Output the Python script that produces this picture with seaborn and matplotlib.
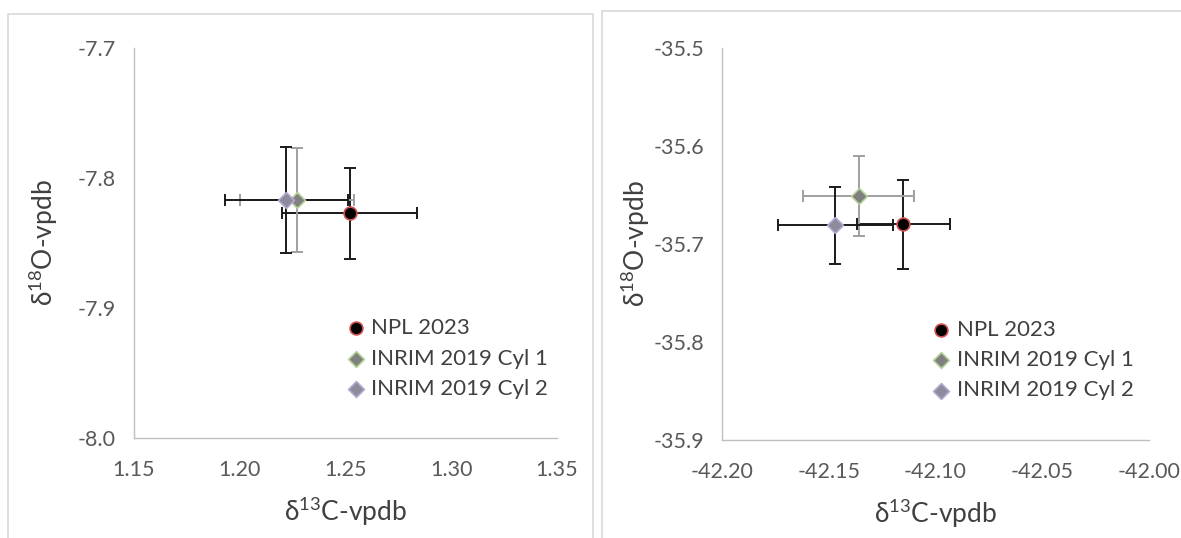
import matplotlib
matplotlib.use("Agg")
import matplotlib.pyplot as plt
from matplotlib.patches import Rectangle
import seaborn as sns
import pandas as pd

# Series names
series = ["NPL 2023", "INRIM 2019 Cyl 1", "INRIM 2019 Cyl 2"]

# Left panel: first gas (δ13C near +1.2 ‰)
left_d13c = [1.252, 1.227, 1.222]
left_d13c_err = [0.032, 0.027, 0.029]
left_d18o = [-7.827, -7.817, -7.817]
left_d18o_err = [0.035, 0.040, 0.041]

# Right panel: second gas (δ13C near -42.1 ‰)
right_d13c = [-42.115, -42.136, -42.147]
right_d13c_err = [0.022, 0.026, 0.027]
right_d18o = [-35.680, -35.651, -35.681]
right_d18o_err = [0.045, 0.041, 0.039]

left_xticks = [1.15, 1.20, 1.25, 1.30, 1.35]
left_yticks = [-8.0, -7.9, -7.8, -7.7]
right_xticks = [-42.20, -42.15, -42.10, -42.05, -42.00]
right_yticks = [-35.9, -35.8, -35.7, -35.6, -35.5]

sns.set_theme(style="white")
plt.rcParams["font.family"] = ["Lato", "Open Sans", "DejaVu Sans"]

marker_style = {
    "NPL 2023": dict(marker="o", fc="#000000", ec="#d05050", size=85),
    "INRIM 2019 Cyl 1": dict(marker="D", fc="#808080", ec="#b5d29a", size=65),
    "INRIM 2019 Cyl 2": dict(marker="D", fc="#8c8c9c", ec="#b3a8d0", size=65),
}
bar_color = {
    "NPL 2023": "#1a1a1a",
    "INRIM 2019 Cyl 1": "#a0a0a0",
    "INRIM 2019 Cyl 2": "#1a1a1a",
}

XLABEL = r"δ$^{\mathregular{13}}$C-vpdb"
YLABEL = r"δ$^{\mathregular{18}}$O-vpdb"

fig = plt.figure(figsize=(11.81, 5.38), dpi=100)

# light chart-area frames
fig.patches.append(Rectangle((8 / 1181, -0.01), 585 / 1181, 1 - 14 / 538 + 0.01,
                             transform=fig.transFigure, fill=False,
                             ec="#d9d9d9", lw=1.2, zorder=0))
fig.patches.append(Rectangle((602 / 1181, -0.01), 600 / 1181, 1 - 11 / 538 + 0.01,
                             transform=fig.transFigure, fill=False,
                             ec="#d9d9d9", lw=1.2, zorder=0))

ax_l = fig.add_axes([134 / 1181, 1 - 438 / 538, 423 / 1181, 390 / 538])
ax_r = fig.add_axes([722 / 1181, 1 - 440 / 538, 427 / 1181, 392 / 538])


def draw_panel(ax, xs, xe, ys, ye, xticks, yticks, xfmt, yfmt, legend_anchor, ypad):
    df = pd.DataFrame({"series": series, "x": xs, "xerr": xe, "y": ys, "yerr": ye})
    for _, row in df.iterrows():
        ax.errorbar(row["x"], row["y"], xerr=row["xerr"], yerr=row["yerr"],
                    fmt="none", ecolor=bar_color[row["series"]], elinewidth=1.4,
                    capsize=4.5, capthick=1.4, zorder=2)
    for name in series:
        st = marker_style[name]
        sub = df[df["series"] == name]
        sns.scatterplot(data=sub, x="x", y="y", ax=ax, marker=st["marker"],
                        color=st["fc"], edgecolor=st["ec"], linewidth=1.2,
                        s=st["size"], label=name, zorder=3)
    ax.set_xlim(xticks[0], xticks[-1])
    ax.set_ylim(yticks[0], yticks[-1])
    ax.set_xticks(xticks)
    ax.set_yticks(yticks)
    ax.set_xticklabels([xfmt.format(v) for v in xticks])
    ax.set_yticklabels([yfmt.format(v) for v in yticks])
    ax.tick_params(axis="both", length=0, labelsize=15.5, colors="#595959")
    ax.tick_params(axis="x", pad=16)
    ax.tick_params(axis="y", pad=13)
    for s in ["top", "right"]:
        ax.spines[s].set_visible(False)
    for s in ["left", "bottom"]:
        ax.spines[s].set_color("#bfbfbf")
        ax.spines[s].set_linewidth(1.0)
    ax.set_xlabel(XLABEL, fontsize=19, color="#404040", labelpad=10)
    ax.set_ylabel(YLABEL, fontsize=19, color="#404040", labelpad=ypad)
    ax.grid(False)
    leg = ax.legend(loc="upper left", bbox_to_anchor=legend_anchor, frameon=False,
                    fontsize=16, handletextpad=0.2, labelspacing=0.47,
                    handlelength=1.0, borderaxespad=0)
    for t in leg.get_texts():
        t.set_color("#404040")


draw_panel(ax_l, left_d13c, left_d13c_err, left_d18o, left_d18o_err,
           left_xticks, left_yticks, "{:.2f}", "{:.1f}", (0.477, 0.33), 13)
draw_panel(ax_r, right_d13c, right_d13c_err, right_d18o, right_d18o_err,
           right_xticks, right_yticks, "{:.2f}", "{:.1f}", (0.467, 0.33), 1)

fig.savefig("out.png", dpi=100)
